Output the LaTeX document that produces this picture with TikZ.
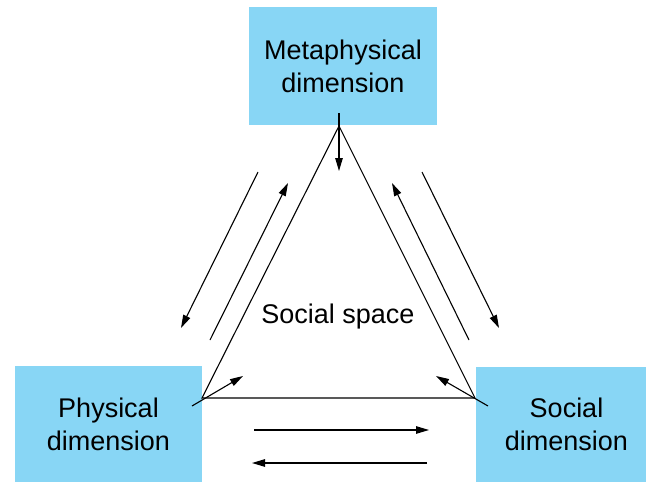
\documentclass[tikz,border=0pt]{standalone}
\usepackage{fontspec}
\setmainfont{Liberation Sans}
\usetikzlibrary{arrows.meta, positioning}
\definecolor{dimBlue}{RGB}{136,214,245}

\begin{document}
\begin{tikzpicture}[x=1pt, y=-1pt,
    dimbox/.style={fill=dimBlue, inner sep=0pt, align=center,
      font=\fontsize{27}{33}\selectfont},
    link/.style={-{Triangle[length=13pt, width=7.5pt]}, line width=1.1pt},
    edge/.style={line width=1.1pt, line join=miter}
  ]
  \useasboundingbox (0,0) rectangle (646,482);

  % dimensions
  \node[dimbox, minimum width=188pt, minimum height=118pt] (meta) at (343,66) {Metaphysical\\dimension};
  \node[dimbox, minimum width=187pt, minimum height=116pt] (phys) at (108.5,424) {Physical\\dimension};
  \node[dimbox, minimum width=181pt, minimum height=115pt] (soc) at (566.5,424.5) {Social\\dimension};

  % triangle of the social space
  \coordinate (apex) at (339,126);
  \coordinate (lv) at (202,398);
  \coordinate (rv) at (475,398);
  \draw[edge] (apex) -- (lv) -- (rv) -- cycle;
  \node[anchor=base, font=\fontsize{27}{33}\selectfont] (space) at (338,323) {Social space};

  % arrows into the space
  \coordinate (metaIn) at (339,113);
  \coordinate (metaTip) at (339,171);
  \coordinate (physIn) at (192,406);
  \coordinate (physTip) at (243,376);
  \coordinate (socIn) at (488,406);
  \coordinate (socTip) at (436,376);
  \draw[link] (metaIn) -- (metaTip);
  \draw[link] (physIn) -- (physTip);
  \draw[link] (socIn) -- (socTip);

  % exchanges along the sides
  \coordinate (lA) at (258,172);
  \coordinate (lB) at (181,328);
  \coordinate (lC) at (210,340);
  \coordinate (lD) at (288,183);
  \coordinate (rA) at (422,172);
  \coordinate (rB) at (499,328);
  \coordinate (rC) at (469,340);
  \coordinate (rD) at (392,183);
  \coordinate (bA) at (254,430);
  \coordinate (bB) at (429,430);
  \coordinate (bC) at (427,463);
  \coordinate (bD) at (252,463);
  \draw[link] (lA) -- (lB);
  \draw[link] (lC) -- (lD);
  \draw[link] (rA) -- (rB);
  \draw[link] (rC) -- (rD);
  \draw[link] (bA) -- (bB);
  \draw[link] (bC) -- (bD);
\end{tikzpicture}
\end{document}
